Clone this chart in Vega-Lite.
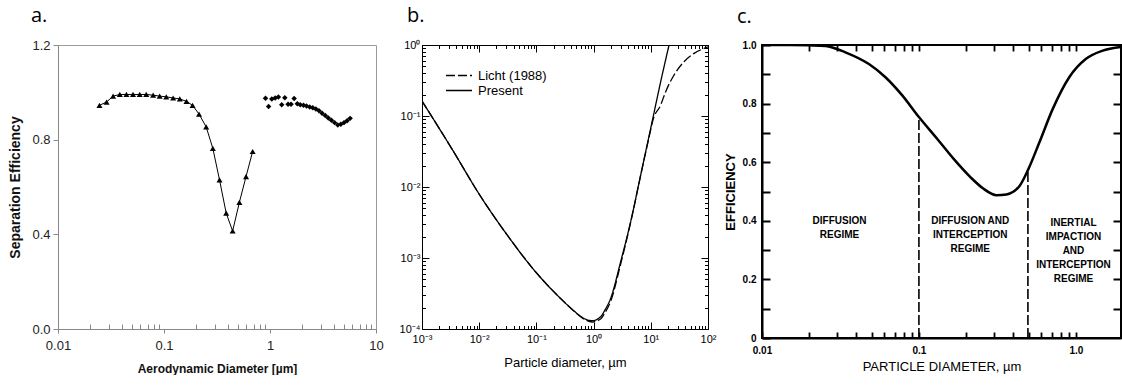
{
  "$schema": "https://vega.github.io/schema/vega-lite/v6.json",
  "padding": {"left": 8, "top": 5, "right": 0, "bottom": 0},
  "autosize": {"type": "pad"},
  "bounds": "flush",
  "spacing": 46,
  "resolve": {"legend": {"strokeDash": "independent"}},
  "config": {
    "axis": {"grid": false, "labelOverlap": false, "labelFlush": false},
    "font": "Liberation Sans",
    "title": {"font": "Open Sans", "fontSize": 20, "fontWeight": "normal", "anchor": "start", "frame": "group", "offset": 13, "color": "#000"}
  },
  "datasets": {
    "panelA": [
      {"d": 0.0246, "e": 0.945, "series": "tri"},
      {"d": 0.0287, "e": 0.959, "series": "tri"},
      {"d": 0.0331, "e": 0.984, "series": "tri"},
      {"d": 0.0383, "e": 0.991, "series": "tri"},
      {"d": 0.0442, "e": 0.991, "series": "tri"},
      {"d": 0.051, "e": 0.991, "series": "tri"},
      {"d": 0.059, "e": 0.991, "series": "tri"},
      {"d": 0.068, "e": 0.991, "series": "tri"},
      {"d": 0.079, "e": 0.988, "series": "tri"},
      {"d": 0.091, "e": 0.984, "series": "tri"},
      {"d": 0.105, "e": 0.981, "series": "tri"},
      {"d": 0.122, "e": 0.976, "series": "tri"},
      {"d": 0.141, "e": 0.972, "series": "tri"},
      {"d": 0.163, "e": 0.962, "series": "tri"},
      {"d": 0.186, "e": 0.945, "series": "tri"},
      {"d": 0.214, "e": 0.908, "series": "tri"},
      {"d": 0.25, "e": 0.854, "series": "tri"},
      {"d": 0.289, "e": 0.763, "series": "tri"},
      {"d": 0.334, "e": 0.63, "series": "tri"},
      {"d": 0.386, "e": 0.49, "series": "tri"},
      {"d": 0.444, "e": 0.414, "series": "tri"},
      {"d": 0.514, "e": 0.535, "series": "tri"},
      {"d": 0.594, "e": 0.644, "series": "tri"},
      {"d": 0.686, "e": 0.75, "series": "tri"},
      {"d": 0.907, "e": 0.975, "series": "dia"},
      {"d": 0.97, "e": 0.94, "series": "dia"},
      {"d": 1.04, "e": 0.972, "series": "dia"},
      {"d": 1.12, "e": 0.976, "series": "dia"},
      {"d": 1.2, "e": 0.98, "series": "dia"},
      {"d": 1.29, "e": 0.948, "series": "dia"},
      {"d": 1.38, "e": 0.977, "series": "dia"},
      {"d": 1.48, "e": 0.95, "series": "dia"},
      {"d": 1.58, "e": 0.95, "series": "dia"},
      {"d": 1.69, "e": 0.974, "series": "dia"},
      {"d": 1.81, "e": 0.952, "series": "dia"},
      {"d": 1.93, "e": 0.948, "series": "dia"},
      {"d": 2.07, "e": 0.945, "series": "dia"},
      {"d": 2.21, "e": 0.942, "series": "dia"},
      {"d": 2.37, "e": 0.938, "series": "dia"},
      {"d": 2.53, "e": 0.935, "series": "dia"},
      {"d": 2.71, "e": 0.93, "series": "dia"},
      {"d": 2.9, "e": 0.922, "series": "dia"},
      {"d": 3.1, "e": 0.912, "series": "dia"},
      {"d": 3.32, "e": 0.902, "series": "dia"},
      {"d": 3.55, "e": 0.892, "series": "dia"},
      {"d": 3.8, "e": 0.882, "series": "dia"},
      {"d": 4.07, "e": 0.872, "series": "dia"},
      {"d": 4.36, "e": 0.862, "series": "dia"},
      {"d": 4.66, "e": 0.865, "series": "dia"},
      {"d": 4.99, "e": 0.872, "series": "dia"},
      {"d": 5.34, "e": 0.88, "series": "dia"},
      {"d": 5.7, "e": 0.89, "series": "dia"}
    ],
    "panelB": [
      {"x": 0.001, "y": 0.1626, "series": "Present"},
      {"x": 0.003573, "y": 0.03141, "series": "Present"},
      {"x": 0.009795, "y": 0.008128, "series": "Present"},
      {"x": 0.03083, "y": 0.002109, "series": "Present"},
      {"x": 0.09638, "y": 0.000641, "series": "Present"},
      {"x": 0.302, "y": 0.0002427, "series": "Present"},
      {"x": 0.447, "y": 0.000182, "series": "Present"},
      {"x": 0.676, "y": 0.0001409, "series": "Present"},
      {"x": 0.948, "y": 0.0001309, "series": "Present"},
      {"x": 1.327, "y": 0.0001489, "series": "Present"},
      {"x": 1.585, "y": 0.000186, "series": "Present"},
      {"x": 1.986, "y": 0.00027, "series": "Present"},
      {"x": 2.972, "y": 0.000887, "series": "Present"},
      {"x": 4.446, "y": 0.003243, "series": "Present"},
      {"x": 6.653, "y": 0.01476, "series": "Present"},
      {"x": 9.954, "y": 0.06683, "series": "Present"},
      {"x": 14.89, "y": 0.3041, "series": "Present"},
      {"x": 20.84, "y": 1.0, "series": "Present"},
      {"x": 0.001, "y": 0.1626, "series": "Licht (1988)"},
      {"x": 0.003573, "y": 0.03141, "series": "Licht (1988)"},
      {"x": 0.009795, "y": 0.008128, "series": "Licht (1988)"},
      {"x": 0.03083, "y": 0.002109, "series": "Licht (1988)"},
      {"x": 0.09638, "y": 0.000641, "series": "Licht (1988)"},
      {"x": 0.302, "y": 0.0002427, "series": "Licht (1988)"},
      {"x": 0.447, "y": 0.00018, "series": "Licht (1988)"},
      {"x": 0.676, "y": 0.000138, "series": "Licht (1988)"},
      {"x": 0.948, "y": 0.0001255, "series": "Licht (1988)"},
      {"x": 1.327, "y": 0.000138, "series": "Licht (1988)"},
      {"x": 1.585, "y": 0.00017, "series": "Licht (1988)"},
      {"x": 1.986, "y": 0.000245, "series": "Licht (1988)"},
      {"x": 2.972, "y": 0.00082, "series": "Licht (1988)"},
      {"x": 4.446, "y": 0.00318, "series": "Licht (1988)"},
      {"x": 6.653, "y": 0.0146, "series": "Licht (1988)"},
      {"x": 9.954, "y": 0.064, "series": "Licht (1988)"},
      {"x": 10.7, "y": 0.083, "series": "Licht (1988)"},
      {"x": 14.89, "y": 0.143, "series": "Licht (1988)"},
      {"x": 18.2, "y": 0.22, "series": "Licht (1988)"},
      {"x": 25.5, "y": 0.378, "series": "Licht (1988)"},
      {"x": 38.1, "y": 0.582, "series": "Licht (1988)"},
      {"x": 57.1, "y": 0.762, "series": "Licht (1988)"},
      {"x": 85.5, "y": 0.896, "series": "Licht (1988)"},
      {"x": 100, "y": 0.94, "series": "Licht (1988)"}
    ],
    "panelC": [
      {"x": 0.01, "y": 1.0},
      {"x": 0.015, "y": 1.0},
      {"x": 0.02, "y": 0.999},
      {"x": 0.0254, "y": 0.997},
      {"x": 0.034, "y": 0.975},
      {"x": 0.048, "y": 0.935},
      {"x": 0.0612, "y": 0.89},
      {"x": 0.0783, "y": 0.828},
      {"x": 0.1, "y": 0.754},
      {"x": 0.1306, "y": 0.68},
      {"x": 0.166, "y": 0.612},
      {"x": 0.212, "y": 0.55},
      {"x": 0.257, "y": 0.51},
      {"x": 0.312, "y": 0.4875},
      {"x": 0.361, "y": 0.49},
      {"x": 0.439, "y": 0.52},
      {"x": 0.495, "y": 0.573},
      {"x": 0.587, "y": 0.669},
      {"x": 0.713, "y": 0.782},
      {"x": 0.908, "y": 0.89},
      {"x": 1.156, "y": 0.952},
      {"x": 1.47, "y": 0.98},
      {"x": 1.94, "y": 0.993}
    ],
    "rulesC": [
      {"x": 0.1, "lo": 0, "hi": 0.754},
      {"x": 0.495, "lo": 0, "hi": 0.573}
    ],
    "textC": [
      {"x": 0.0312, "y": 0.415, "label": "DIFFUSION\nREGIME"},
      {"x": 0.2123, "y": 0.415, "label": "DIFFUSION AND\nINTERCEPTION\nREGIME"},
      {"x": 0.966, "y": 0.41, "label": "INERTIAL\nIMPACTION\nAND\nINTERCEPTION\nREGIME"}
    ]
  },
  "hconcat": [
    {
      "width": 318,
      "height": 284,
      "title": {"text": "a.", "dx": -27},
      "view": {"stroke": "#9a9a9a", "strokeWidth": 1},
      "data": {"name": "panelA"},
      "resolve": {"axis": {"x": "independent"}},
      "layer": [
        {
          "transform": [{"filter": "datum.series == 'tri'"}],
          "mark": {"type": "line", "color": "#000", "strokeWidth": 1},
          "encoding": {
            "x": {"field": "d", "type": "quantitative", "scale": {"type": "log", "domain": [0.01, 10], "nice": false},
              "axis": {"orient": "bottom", "values": [0.01, 0.1, 1, 10], "format": "~g", "title": "Aerodynamic Diameter [µm]", "tickSize": 4, "tickColor": "#888", "domainColor": "#888", "labelFont": "Liberation Sans Narrow, Liberation Sans", "labelFontSize": 13, "labelColor": "#222", "labelPadding": 6, "titleFont": "Liberation Sans Narrow, Liberation Sans", "titleFontWeight": "bold", "titleFontSize": 12, "titlePadding": 11, "titleColor": "#111"}},
            "y": {"field": "e", "type": "quantitative", "scale": {"domain": [0, 1.2], "nice": false, "zero": false},
              "axis": {"values": [0, 0.4, 0.8, 1.2], "format": ".1f", "title": "Separation Efficiency", "tickSize": 5, "tickColor": "#888", "domainColor": "#888", "labelFont": "Liberation Sans Narrow, Liberation Sans", "labelFontSize": 13, "labelColor": "#222", "labelPadding": 3, "titleFont": "Liberation Sans", "titleFontWeight": "bold", "titleFontSize": 14, "titlePadding": 9, "titleColor": "#111"}}
          }
        },
        {
          "transform": [{"filter": "datum.series == 'tri'"}],
          "mark": {"type": "point", "shape": "triangle-up", "filled": true, "color": "#000", "opacity": 1, "size": 36},
          "encoding": {
            "x": {"field": "d", "type": "quantitative", "scale": {"type": "log", "domain": [0.01, 10], "nice": false}, "axis": null},
            "y": {"field": "e", "type": "quantitative", "scale": {"domain": [0, 1.2], "nice": false, "zero": false}}
          }
        },
        {
          "transform": [{"filter": "datum.series == 'dia'"}],
          "mark": {"type": "point", "shape": "diamond", "filled": true, "color": "#000", "opacity": 1, "size": 30},
          "encoding": {
            "x": {"field": "d", "type": "quantitative", "scale": {"type": "log", "domain": [0.01, 10], "nice": false}, "axis": null},
            "y": {"field": "e", "type": "quantitative", "scale": {"domain": [0, 1.2], "nice": false, "zero": false}}
          }
        },
        {
          "mark": {"type": "point", "opacity": 0},
          "encoding": {
            "x": {"field": "d", "type": "quantitative", "scale": {"type": "log", "domain": [0.01, 10], "nice": false},
              "axis": {"orient": "bottom", "values": [0.02, 0.03, 0.04, 0.05, 0.06, 0.07, 0.08, 0.09, 0.2, 0.3, 0.4, 0.5, 0.6, 0.7, 0.8, 0.9, 2, 3, 4, 5, 6, 7, 8, 9], "labels": false, "domain": false, "tickSize": -5, "tickColor": "#888", "title": null}},
            "y": {"field": "e", "type": "quantitative", "scale": {"domain": [0, 1.2], "nice": false, "zero": false}}
          }
        }
      ]
    },
    {
      "bounds": "flush",
      "spacing": 54,
      "resolve": {"legend": {"strokeDash": "independent"}},
      "hconcat": [
        {
          "width": 286,
          "height": 284,
          "title": {"text": "b.", "dx": -15},
          "view": {"stroke": "#000", "strokeWidth": 1},
          "data": {"name": "panelB"},
          "resolve": {"axis": {"x": "independent", "y": "independent"}},
          "layer": [
            {
              "mark": {"type": "line", "color": "#000", "strokeWidth": 1.3, "clip": true, "interpolate": "monotone"},
              "encoding": {
                "x": {"field": "x", "type": "quantitative", "scale": {"type": "log", "domain": [0.001, 100], "nice": false},
                  "axis": {"orient": "bottom", "values": [0.001, 0.01, 0.1, 1, 10, 100], "labelExpr": "'10' + replace(replace(replace(replace(replace(replace('' + round(log(datum.value)/LN10), '-', '⁻'), '0', '⁰'), '1', '¹'), '2', '²'), '3', '³'), '4', '⁴')", "tickSize": -7, "tickColor": "#000", "domainColor": "#000", "labelPadding": 11, "labelFont": "Liberation Sans", "labelFontSize": 11, "labelColor": "#000", "title": "Particle diameter, µm", "titleFont": "Liberation Sans", "titleFontWeight": "normal", "titleFontSize": 13, "titlePadding": 12, "titleColor": "#000"}},
                "y": {"field": "y", "type": "quantitative", "scale": {"type": "log", "domain": [0.0001, 1], "nice": false},
                  "axis": {"orient": "left", "values": [0.0001, 0.001, 0.01, 0.1, 1], "labelExpr": "'10' + replace(replace(replace(replace(replace(replace('' + round(log(datum.value)/LN10), '-', '⁻'), '0', '⁰'), '1', '¹'), '2', '²'), '3', '³'), '4', '⁴')", "tickSize": -7, "tickColor": "#000", "domainColor": "#000", "labelPadding": 9, "labelFont": "Liberation Sans", "labelFontSize": 11, "labelColor": "#000", "title": null}},
                "strokeDash": {"field": "series", "type": "nominal",
                  "scale": {"domain": ["Licht (1988)", "Present"], "range": [[9, 3], [1, 0]]},
                  "legend": {"orient": "top-left", "offset": 23, "title": null, "padding": 0, "symbolType": "M-1,0H3", "symbolSize": 169, "symbolStrokeWidth": 1.3, "symbolStrokeColor": "#000", "symbolFillColor": "transparent", "labelFont": "Liberation Sans", "labelFontSize": 13, "labelColor": "#000", "labelOffset": 18, "rowPadding": 0}}
              }
            },
            {
              "mark": {"type": "point", "opacity": 0},
              "encoding": {
                "x": {"field": "x", "type": "quantitative", "scale": {"type": "log", "domain": [0.001, 100], "nice": false},
                  "axis": {"orient": "bottom", "values": [0.002, 0.003, 0.004, 0.005, 0.006, 0.007, 0.008, 0.009, 0.02, 0.03, 0.04, 0.05, 0.06, 0.07, 0.08, 0.09, 0.2, 0.3, 0.4, 0.5, 0.6, 0.7, 0.8, 0.9, 2, 3, 4, 5, 6, 7, 8, 9, 20, 30, 40, 50, 60, 70, 80, 90], "labels": false, "domain": false, "tickSize": -3.5, "tickColor": "#000", "title": null}},
                "y": {"field": "y", "type": "quantitative", "scale": {"type": "log", "domain": [0.0001, 1], "nice": false},
                  "axis": {"orient": "left", "values": [0.0002, 0.0003, 0.0004, 0.0005, 0.0006, 0.0007, 0.0008, 0.0009, 0.002, 0.003, 0.004, 0.005, 0.006, 0.007, 0.008, 0.009, 0.02, 0.03, 0.04, 0.05, 0.06, 0.07, 0.08, 0.09, 0.2, 0.3, 0.4, 0.5, 0.6, 0.7, 0.8, 0.9], "labels": false, "domain": false, "tickSize": -3.5, "tickColor": "#000", "title": null}}
              }
            },
            {
              "mark": {"type": "point", "opacity": 0},
              "encoding": {
                "x": {"field": "x", "type": "quantitative", "scale": {"type": "log", "domain": [0.001, 100], "nice": false},
                  "axis": {"orient": "top", "values": [0.001, 0.01, 0.1, 1, 10, 100], "labels": false, "domain": false, "tickSize": -7, "tickColor": "#000", "title": null}},
                "y": {"field": "y", "type": "quantitative", "scale": {"type": "log", "domain": [0.0001, 1], "nice": false},
                  "axis": {"orient": "right", "values": [0.0001, 0.001, 0.01, 0.1, 1], "labels": false, "domain": false, "tickSize": -7, "tickColor": "#000", "title": null}}
              }
            },
            {
              "mark": {"type": "point", "opacity": 0},
              "encoding": {
                "x": {"field": "x", "type": "quantitative", "scale": {"type": "log", "domain": [0.001, 100], "nice": false},
                  "axis": {"orient": "top", "values": [0.002, 0.003, 0.004, 0.005, 0.006, 0.007, 0.008, 0.009, 0.02, 0.03, 0.04, 0.05, 0.06, 0.07, 0.08, 0.09, 0.2, 0.3, 0.4, 0.5, 0.6, 0.7, 0.8, 0.9, 2, 3, 4, 5, 6, 7, 8, 9, 20, 30, 40, 50, 60, 70, 80, 90], "labels": false, "domain": false, "tickSize": -3.5, "tickColor": "#000", "title": null}},
                "y": {"field": "y", "type": "quantitative", "scale": {"type": "log", "domain": [0.0001, 1], "nice": false},
                  "axis": {"orient": "right", "values": [0.0002, 0.0003, 0.0004, 0.0005, 0.0006, 0.0007, 0.0008, 0.0009, 0.002, 0.003, 0.004, 0.005, 0.006, 0.007, 0.008, 0.009, 0.02, 0.03, 0.04, 0.05, 0.06, 0.07, 0.08, 0.09, 0.2, 0.3, 0.4, 0.5, 0.6, 0.7, 0.8, 0.9], "labels": false, "domain": false, "tickSize": -3.5, "tickColor": "#000", "title": null}}
              }
            }
          ]
        },
        {
          "width": 359,
          "height": 293,
          "title": {"text": "c.", "dx": -25},
          "view": {"stroke": "#000", "strokeWidth": 2},
          "resolve": {"axis": {"x": "independent", "y": "independent"}},
          "layer": [
            {
              "data": {"name": "panelC"},
              "mark": {"type": "line", "color": "#000", "strokeWidth": 2.5, "clip": true, "interpolate": "monotone"},
              "encoding": {
                "x": {"field": "x", "type": "quantitative", "scale": {"type": "log", "domain": [0.01, 1.94], "nice": false},
                  "axis": {"orient": "bottom", "values": [0.01, 0.02, 0.03, 0.04, 0.05, 0.06, 0.07, 0.08, 0.09, 0.1, 0.2, 0.3, 0.4, 0.5, 0.6, 0.7, 0.8, 0.9, 1], "labelExpr": "datum.value == 0.01 ? '0.01' : datum.value == 0.1 ? '0.1' : datum.value == 1 ? '1.0' : ''", "tickSize": -6, "tickWidth": 1.8, "tickColor": "#000", "domainColor": "#000", "domainWidth": 2, "labelPadding": 13, "labelFont": "Liberation Sans Narrow, Liberation Sans", "labelFontWeight": "bold", "labelFontSize": 10, "labelColor": "#000", "title": "PARTICLE DIAMETER, µm", "titleFont": "Liberation Sans", "titleFontWeight": "normal", "titleFontSize": 13, "titlePadding": 5, "titleColor": "#000"}},
                "y": {"field": "y", "type": "quantitative", "scale": {"domain": [0, 1], "nice": false},
                  "axis": {"orient": "left", "values": [0, 0.1, 0.2, 0.3, 0.4, 0.5, 0.6, 0.7, 0.8, 0.9, 1], "labelExpr": "datum.value == 0 ? '0' : (round(datum.value * 10) % 2 == 0 ? format(datum.value, '.1f') : '')", "tickSize": -8, "tickWidth": 2, "tickColor": "#000", "domainColor": "#000", "domainWidth": 2, "labelPadding": 14, "labelFont": "Liberation Sans Narrow, Liberation Sans", "labelFontWeight": "bold", "labelFontSize": 10, "labelColor": "#000", "title": "EFFICIENCY", "titleFont": "Liberation Sans", "titleFontWeight": "bold", "titleFontSize": 13, "titlePadding": 5, "titleColor": "#000"}}
              }
            },
            {
              "data": {"name": "rulesC"},
              "mark": {"type": "rule", "color": "#000", "strokeWidth": 1.6, "strokeDash": [10, 3]},
              "encoding": {
                "x": {"field": "x", "type": "quantitative", "scale": {"type": "log", "domain": [0.01, 1.94], "nice": false}, "axis": null},
                "y": {"field": "lo", "type": "quantitative", "scale": {"domain": [0, 1], "nice": false}, "axis": null},
                "y2": {"field": "hi"}
              }
            },
            {
              "data": {"name": "textC"},
              "mark": {"type": "text", "font": "Liberation Sans Narrow, Liberation Sans", "fontWeight": "bold", "fontSize": 10, "lineBreak": "\n", "lineHeight": 14, "baseline": "top", "align": "center", "color": "#000"},
              "encoding": {
                "x": {"field": "x", "type": "quantitative", "scale": {"type": "log", "domain": [0.01, 1.94], "nice": false}, "axis": null},
                "y": {"field": "y", "type": "quantitative", "scale": {"domain": [0, 1], "nice": false}, "axis": null},
                "text": {"field": "label"}
              }
            },
            {
              "data": {"name": "panelC"},
              "mark": {"type": "point", "opacity": 0},
              "encoding": {
                "x": {"field": "x", "type": "quantitative", "scale": {"type": "log", "domain": [0.01, 1.94], "nice": false},
                  "axis": {"orient": "top", "values": [0.02, 0.03, 0.04, 0.05, 0.06, 0.07, 0.08, 0.09, 0.1, 0.2, 0.3, 0.4, 0.5, 0.6, 0.7, 0.8, 0.9, 1], "labels": false, "domain": false, "tickSize": -6, "tickWidth": 1.8, "tickColor": "#000", "title": null}},
                "y": {"field": "y", "type": "quantitative", "scale": {"domain": [0, 1], "nice": false},
                  "axis": {"orient": "right", "values": [0.1, 0.2, 0.3, 0.4, 0.5, 0.6, 0.7, 0.8, 0.9], "labels": false, "domain": false, "tickSize": -8, "tickWidth": 2, "tickColor": "#000", "title": null}}
              }
            }
          ]
        }
      ]
    }
  ]
}
